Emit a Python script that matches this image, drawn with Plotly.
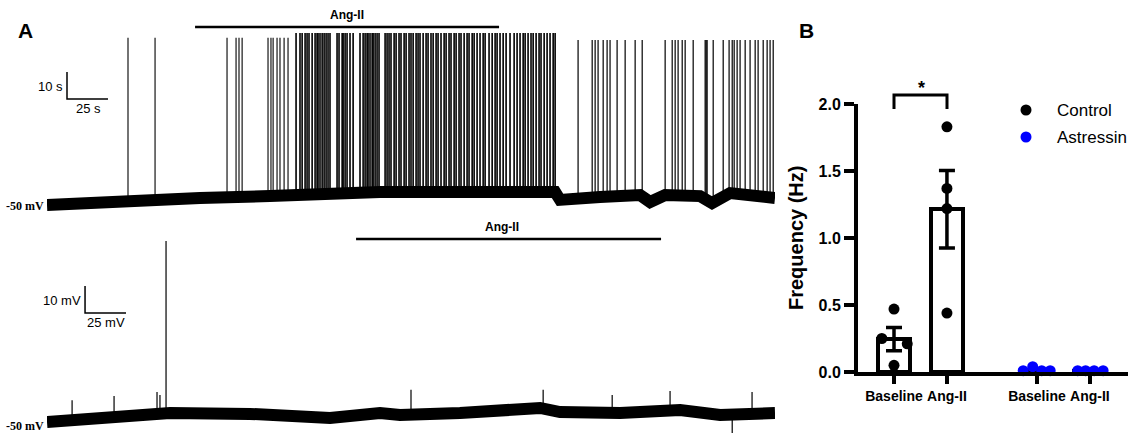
import numpy as np
import plotly.graph_objects as go

W, H = 1129, 435
def PX(x): return x / W
def PY(y): return 1 - y / H

# ---------------- Panel A data (time in s, voltage in mV) ----------------
# top recording (Control): baseline drift
top_base_t = [0, 50.6, 93.3, 136.0, 172.6, 203.1, 309.9, 312.9, 337.3, 361.7, 367.8, 377.0, 398.3, 405.6, 416.6, 444.0]
top_base_mV = [-50.0, -48.1, -47.4, -46.7, -45.6, -45.2, -45.2, -48.1, -47.0, -46.3, -48.9, -46.3, -46.7, -49.3, -45.6, -47.4]

# spike times (s)
top_spikes_early = [49.4, 65.9, 109.8, 115.3, 117.1, 119.0, 134.8, 136.6, 137.9, 140.3, 142.1, 144.6, 147.0]
top_spikes_dense = [151.9, 154.3, 155.6, 157.4, 158.6, 159.8, 161.7, 163.5, 164.7, 165.3, 166.5, 167.8, 169.0,
                    170.2, 171.4, 172.6, 176.9, 178.1, 180.0, 180.6, 181.8, 183.0, 184.8, 186.7, 190.9, 192.8,
                    194.0, 195.2, 195.8, 197.0, 198.3, 198.9, 200.1, 201.3, 202.5, 206.2, 207.4, 208.6, 209.8,
                    211.7, 212.9, 214.7, 215.9, 217.8, 219.0, 220.8, 222.0, 223.3, 225.1, 226.3, 227.5, 229.4,
                    231.2, 232.4, 234.2, 235.5, 237.3, 238.5, 240.3, 242.2, 243.4, 245.2, 246.4, 248.3, 249.5,
                    251.3, 252.5, 254.4, 256.2, 257.4, 259.3, 260.5, 262.3, 264.1, 266.0, 267.2, 269.6, 271.5,
                    273.3, 274.5, 276.3, 278.2, 280.0, 282.4, 284.9, 286.7, 288.5, 290.4, 291.6, 293.4, 295.2,
                    296.5, 298.3, 300.1, 301.3, 303.2, 305.0, 306.8, 308.7, 309.9]
top_spikes_late = [323.9, 332.5, 334.3, 336.1, 339.2, 341.6, 343.4, 347.7, 352.6, 358.7, 363.0, 377.0, 381.3,
                   383.1, 384.9, 387.4, 389.2, 394.1, 401.4, 402.0, 402.6, 406.3, 412.4, 416.0, 417.9, 419.1,
                   420.9, 422.7, 425.8, 428.8, 431.9, 433.7, 436.8, 439.2, 441.0, 442.9]
top_peak_early_mV = 11.9
top_peak_dense_mV = 13.7
top_peak_late_mV = 11.1

# bottom recording (Astressin)
bot_base_t = [0, 32.3, 62.8, 75.0, 123.8, 172.6, 203.1, 215.3, 251.9, 300.7, 312.9, 349.5, 386.1, 410.5, 444.0]
bot_base_mV = [-50.0, -48.1, -47.4, -46.7, -47.0, -48.5, -46.7, -47.4, -46.7, -44.8, -46.3, -46.7, -45.6, -47.4, -46.7]
bot_event_t = [15.3, 40.9, 67.1, 68.9, 72.6, 222.0, 302.6, 344.7, 380.0, 417.9, 430.0]
bot_event_mV = [-41.9, -40.4, -38.9, -40.0, 17.0, -38.1, -38.1, -40.0, -38.5, -54.1, -38.9]

top_drug_on, top_drug_off = 90.3, 275.7
bot_drug_on, bot_drug_off = 188.5, 374.5
scale_time_s = 25
scale_volt_mV = 10

# ---------------- Panel B data ----------------
groups = ["Baseline", "Ang-II", "Baseline", "Ang-II"]
series_names = ["Control", "Astressin"]
series_colors = ["black", "#0000ff"]
control_baseline = [0.47, 0.25, 0.21, 0.05]
control_angii = [1.83, 1.37, 1.22, 0.44]
astressin_baseline = [0.01, 0.04, 0.01, 0.01]
astressin_angii = [0.01, 0.01, 0.01, 0.01]

# ---------------- figure ----------------
fig = go.Figure()

def spike_xy(times, base_t, base_v, peak):
    xs, ys = [], []
    for t in times:
        b = float(np.interp(t, base_t, base_v))
        xs += [t, t, None]
        ys += [b, peak, None]
    return xs, ys

BAND = 12
# top trace
fig.add_trace(go.Scatter(x=top_base_t, y=top_base_mV, mode="lines", line=dict(color="black", width=BAND),
                         xaxis="x", yaxis="y", showlegend=False, hoverinfo="skip"))
for spikes, pk, lw in [(top_spikes_early, top_peak_early_mV, 1.1), (top_spikes_dense, top_peak_dense_mV, 1.6),
                       (top_spikes_late, top_peak_late_mV, 1.2)]:
    sx, sy = spike_xy(spikes, top_base_t, top_base_mV, pk)
    fig.add_trace(go.Scatter(x=sx, y=sy, mode="lines", line=dict(color="black", width=lw),
                             xaxis="x", yaxis="y", showlegend=False, hoverinfo="skip"))

# bottom trace
fig.add_trace(go.Scatter(x=bot_base_t, y=bot_base_mV, mode="lines", line=dict(color="black", width=BAND),
                         xaxis="x2", yaxis="y2", showlegend=False, hoverinfo="skip"))
bx, by = [], []
for t, v in zip(bot_event_t, bot_event_mV):
    b = float(np.interp(t, bot_base_t, bot_base_mV))
    bx += [t, t, None]
    by += [b, v, None]
fig.add_trace(go.Scatter(x=bx, y=by, mode="lines", line=dict(color="black", width=1.2),
                         xaxis="x2", yaxis="y2", showlegend=False, hoverinfo="skip"))

# bar chart
pos = [0, 1, 2.7, 3.7]
jit_cb = [0, -0.23, 0.25, 0]
jit_ca = [0, 0, 0, 0]
jit_ab = [-0.26, -0.08, 0.09, 0.25]
jit_aa = [-0.23, -0.08, 0.08, 0.25]
sets = [control_baseline, control_angii, astressin_baseline, astressin_angii]
means = [float(np.mean(s)) for s in sets]
sems = [float(np.std(s, ddof=1) / np.sqrt(len(s))) for s in sets]

fig.add_trace(go.Bar(x=pos, y=means, width=0.6, xaxis="x3", yaxis="y3", showlegend=False,
                     marker=dict(color="white", line=dict(color="black", width=4)),
                     error_y=dict(type="data", array=sems, visible=True, color="black", thickness=3.5, width=8)))
fig.add_trace(go.Scatter(x=[pos[0] + j for j in jit_cb] + [pos[1] + j for j in jit_ca],
                         y=control_baseline + control_angii, mode="markers", name=series_names[0],
                         showlegend=False, marker=dict(color=series_colors[0], size=11),
                         xaxis="x3", yaxis="y3", cliponaxis=False))
fig.add_trace(go.Scatter(x=[pos[2] + j for j in jit_ab] + [pos[3] + j for j in jit_aa],
                         y=astressin_baseline + astressin_angii, mode="markers", name=series_names[1],
                         showlegend=False, marker=dict(color=series_colors[1], size=11),
                         xaxis="x3", yaxis="y3", cliponaxis=False))

# axes ranges: 2.7 px per mV, 41 px per 25 s
top_ymin = -50 - (222 - 205) / 2.7
top_ymax = -50 + (205 - 20) / 2.7
bot_ymin = -50 - (435 - 422) / 2.7
bot_ymax = -50 + (422 - 226) / 2.7
hidden = dict(visible=False, showgrid=False, zeroline=False, fixedrange=True, automargin=False)
fig.update_layout(
    width=W, height=H, margin=dict(l=0, r=0, t=0, b=0, pad=0, autoexpand=False),
    paper_bgcolor="white", plot_bgcolor="rgba(0,0,0,0)", showlegend=False,
    xaxis=dict(domain=[PX(47), PX(775)], range=[0, 444], anchor="y", **hidden),
    yaxis=dict(domain=[PY(222), PY(20)], range=[top_ymin, top_ymax], anchor="x", **hidden),
    xaxis2=dict(domain=[PX(47), PX(775)], range=[0, 444], anchor="y2", **hidden),
    yaxis2=dict(domain=[PY(435), PY(226)], range=[bot_ymin, bot_ymax], anchor="x2", **hidden),
    xaxis3=dict(domain=[PX(858), PX(1128)], range=[-0.68, 4.42], anchor="y3", showgrid=False, zeroline=False,
                automargin=False, showline=True, linewidth=4, linecolor="black", ticks="outside", ticklen=8,
                tickwidth=4, tickcolor="black", tickvals=pos, ticktext=groups,
                tickfont=dict(family="Liberation Sans", size=14, color="black", weight="bold")),
    yaxis3=dict(domain=[PY(372), PY(104)], range=[0, 2], anchor="x3", showgrid=False, zeroline=False,
                automargin=False, showline=True, linewidth=4, linecolor="black", ticks="outside", ticklen=10,
                tickwidth=4, tickcolor="black", tickvals=[0, 0.5, 1, 1.5, 2], tickformat=".1f",
                tickfont=dict(family="Liberation Sans", size=16, color="black", weight="bold")),
    bargap=0,
)

shapes = []
line = dict(color="black", width=2.5)
shapes.append(dict(type="line", xref="x", yref="y", x0=top_drug_on, x1=top_drug_off,
                   y0=15.9, y1=15.9, line=line))
shapes.append(dict(type="line", xref="x2", yref="y2", x0=bot_drug_on, x1=bot_drug_off,
                   y0=17.8, y1=17.8, line=line))
# scale bars
sb = dict(color="black", width=1.5)
shapes.append(dict(type="path", xref="x", yref="y",
                   path=f"M 12.2,{-10.7 + scale_volt_mV} L 12.2,-10.7 L {12.2 + scale_time_s},-10.7", line=sb))
shapes.append(dict(type="path", xref="x2", yref="y2",
                   path=f"M 23.2,{-9.6 + scale_volt_mV} L 23.2,-9.6 L {23.2 + scale_time_s},-9.6", line=sb))
# significance bracket
shapes.append(dict(type="path", xref="paper", yref="paper",
                   path=f"M {PX(894)},{PY(109)} L {PX(894)},{PY(95)} L {PX(947)},{PY(95)} L {PX(947)},{PY(109)}",
                   line=dict(color="black", width=3)))
# legend dots
for i, col in enumerate(series_colors):
    cy = 110 + 27 * i
    shapes.append(dict(type="circle", xref="paper", yref="paper", fillcolor=col, line=dict(width=0),
                       x0=PX(1026 - 5.5), x1=PX(1026 + 5.5), y0=PY(cy + 5.5), y1=PY(cy - 5.5)))
fig.update_layout(shapes=shapes)

sans = "Liberation Sans"
def ann(text, x, y, size, bold=False, xanchor="center", family=sans, angle=0):
    return dict(text=text, x=PX(x), y=PY(y), xref="paper", yref="paper", showarrow=False,
                xanchor=xanchor, yanchor="middle", textangle=angle,
                font=dict(family=family, size=size, color="black", weight="bold" if bold else "normal"))

anns = [
    ann("A", 25, 30, 21, True),
    ann("B", 807, 30, 21, True),
    ann("Ang-II", 347, 15, 12, True),
    ann("Ang-II", 502, 227, 12, True),
    ann("-50 mV", 46, 206, 12, True, "right", "Liberation Serif"),
    ann("-50 mV", 46, 426, 12, True, "right", "Liberation Serif"),
    ann("10 s", 65, 86, 13, False, "right"),
    ann("25 s", 88, 108, 13),
    ann("10 mV", 83, 300, 13, False, "right"),
    ann("25 mV", 106, 322, 13),
    ann("Frequency (Hz)", 796, 238, 20, True, angle=-90),
    ann("*", 921, 88, 18, True),
]
for i, name in enumerate(series_names):
    anns.append(ann(name, 1055, 110 + 27 * i, 17, False, "left"))
fig.update_layout(annotations=anns)

fig.write_html("out.html", config={"displayModeBar": False},
               post_script="document.body.style.margin='0';document.body.style.overflow='hidden';")
